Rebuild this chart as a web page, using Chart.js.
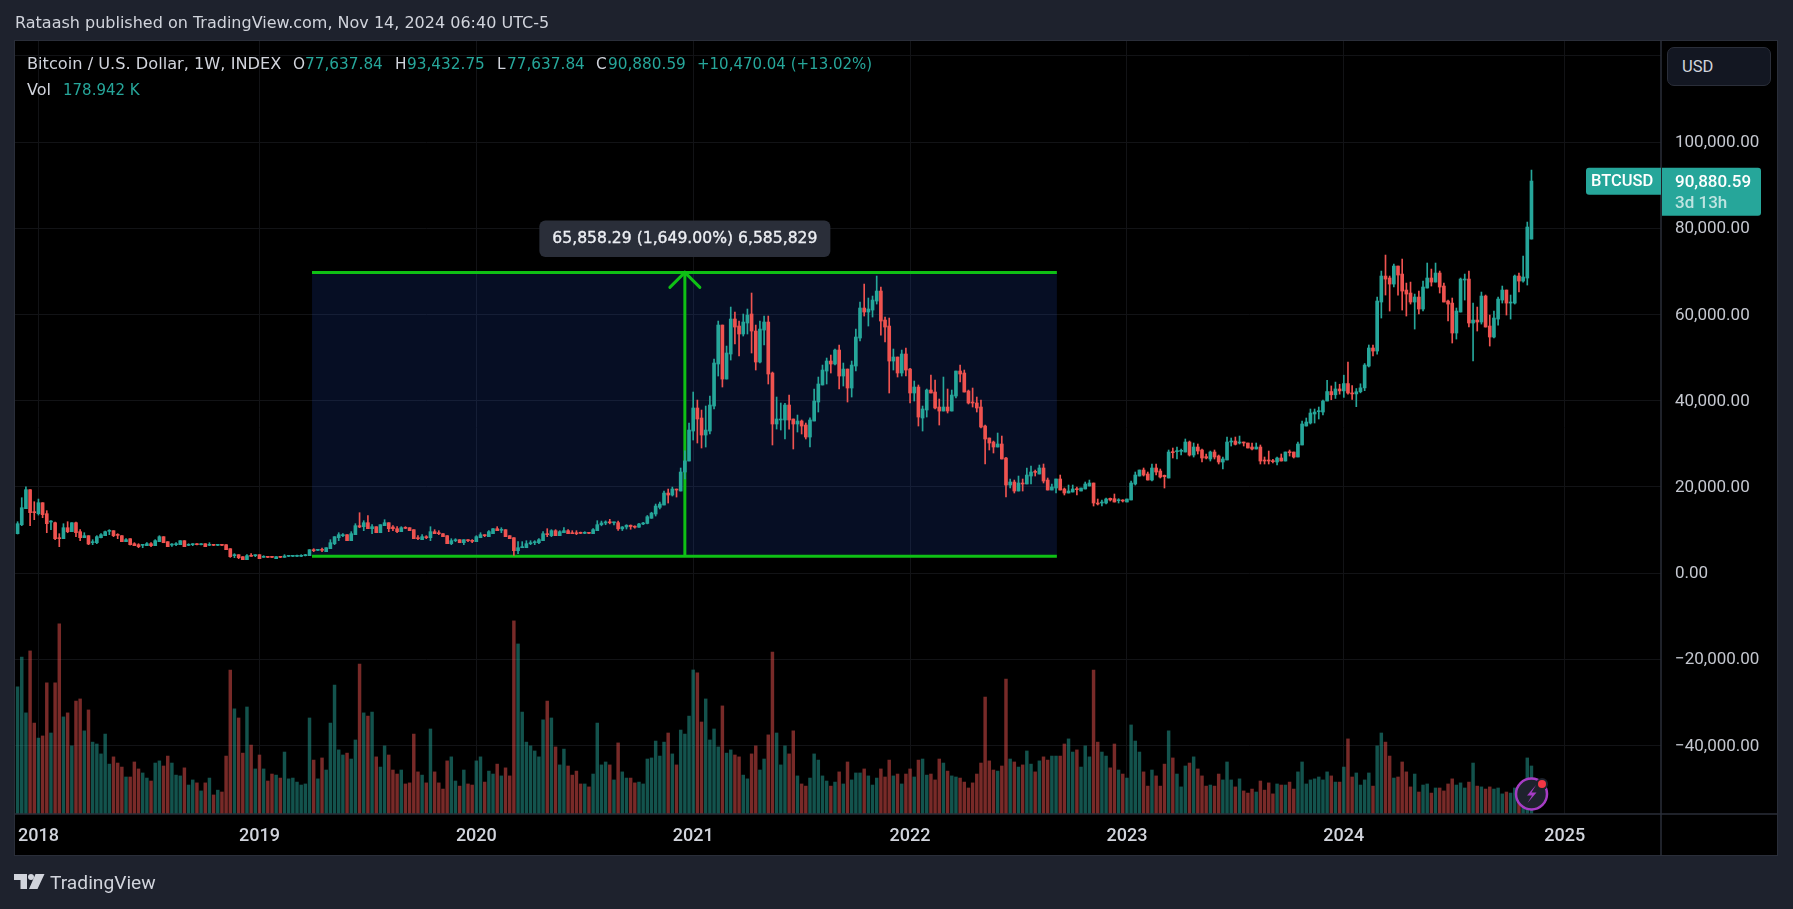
<!DOCTYPE html>
<html>
<head>
<meta charset="utf-8">
<title>BTCUSD 1W</title>
<script src="https://cdn.jsdelivr.net/npm/chart.js@4/dist/chart.umd.js"></script>
<style>
  html,body{margin:0;padding:0;width:1793px;height:909px;overflow:hidden;background:#1e222d;font-family:Roboto,sans-serif;}
  #panel{position:absolute;left:14px;top:40px;width:1762px;height:814px;background:#000;border:1px solid #2a2e39;border-width:1.5px;}
  #c{position:absolute;left:0;top:0;}
  .t{position:absolute;white-space:nowrap;font-family:"DejaVu Sans",sans-serif;font-size:15.300px;line-height:20px;color:#d1d4dc;}
  .v{color:#26a69a;}
  #usd{position:absolute;left:1667px;top:47px;width:102px;height:37px;background:#131722;border:1.5px solid #2a2e39;border-radius:7px;color:#d1d4dc;font-size:16.5px;line-height:37px;text-indent:14px;}
</style>
</head>
<body>
<div id="panel"></div>
<canvas id="c" width="1793" height="909"></canvas>
<div class="t" style="left:15px;top:13px;font-size:16px">Rataash published on TradingView.com, Nov 14, 2024 06:40 UTC-5</div>
<div class="t" style="left:27px;top:54px;font-size:16.200px">Bitcoin / U.S. Dollar, 1W, INDEX</div>
<div class="t" style="left:293px;top:54px">O</div><div class="t v" style="left:305px;top:54px">77,637.84</div>
<div class="t" style="left:395px;top:54px">H</div><div class="t v" style="left:407px;top:54px">93,432.75</div>
<div class="t" style="left:497px;top:54px">L</div><div class="t v" style="left:507px;top:54px">77,637.84</div>
<div class="t" style="left:596px;top:54px">C</div><div class="t v" style="left:608px;top:54px">90,880.59</div>
<div class="t v" style="left:697px;top:54px;font-size:15px">+10,470.04 (+13.02%)</div>
<div class="t" style="left:27px;top:80px;font-size:16px">Vol</div><div class="t v" style="left:63px;top:80px;font-size:15px">178.942 K</div>
<div id="usd">USD</div>
<svg style="position:absolute;left:14px;top:874px" width="31" height="16" viewBox="0 0 31 16"><path fill="#d1d4dc" d="M0 0H13V15H6.500V6H0Z M21.500 0H30.500L23.500 15H15Z"/><circle fill="#d1d4dc" cx="17" cy="3" r="3"/></svg>
<div class="t" style="left:50px;top:873px;font-family:Roboto;font-size:19.200px">TradingView</div>
<svg style="position:absolute;left:1510px;top:774px" width="44" height="40" viewBox="0 0 44 40">
  <circle cx="21.500" cy="20" r="15.500" fill="#1e222d" stroke="#a63cc4" stroke-width="2.500"/>
  <path d="M26 11 L17 21.500 H22 L17.500 29 L26.500 18.500 H21.500Z" fill="#a63cc4"/>
  <circle cx="32" cy="10" r="6" fill="#1e222d"/><circle cx="32" cy="10" r="4" fill="#f23645"/>
</svg>
<script>
const opens=[
9120,11200,14920,19330,14220,13760,16310,13760,11830,11670,
8190,7960,10510,9590,11670,9590,8190,8660,7030,7030,
8190,8660,9670,9820,8890,8660,7270,7960,6800,6570,
6420,6340,6800,6340,7270,8430,7270,6490,6570,6570,
7500,6420,6570,6720,6570,6800,6420,6570,6420,6570,
6570,5640,4020,4250,3790,3090,4100,4020,4250,3630,
3790,3790,3320,3790,3630,3870,3870,3870,3870,4020,
4020,5410,5260,5410,4950,5640,6800,8190,8660,8890,
7500,8890,10980,10740,11670,10280,10740,9350,10980,11670,
10670,10280,9590,10590,10510,10050,8190,7730,8430,8190,
9590,9350,9120,8660,6800,7500,7730,7030,7730,7580,
7270,8190,8890,8430,9120,10280,9900,10050,8660,8190,
5180,5870,5870,6800,7030,7030,7500,9120,8660,9820,
8660,9350,9820,9350,9350,9350,9200,9350,9120,9820,
11210,11600,11850,11650,11680,10250,10680,11080,10770,10630,
11370,11500,12700,13680,15230,15770,18550,18090,19480,19020,
23430,25980,32940,38280,35960,32010,32940,38740,48490,57530,
45000,50810,58930,57300,55450,58000,60090,56140,48950,56370,
58230,46400,34570,35500,35500,38970,35730,34570,35260,34330,
31550,35260,39670,43620,46860,49180,48490,51730,45700,47320,
42920,48020,54520,61480,60550,61010,63100,65420,58690,57300,
49180,50110,46400,50810,47320,41760,43150,35960,37820,42450,
41990,38510,37580,38510,37580,41060,46860,46400,42220,39670,
39440,38510,34100,31320,30390,29230,29930,26680,20410,21110,
19020,20880,20650,22500,23580,22970,24360,21570,19250,19720,
21810,19490,18560,18790,19560,19020,19490,20180,20880,16240,
16240,16240,17320,17240,16780,16940,16470,16940,20650,22500,
23890,22970,21570,24360,23660,22660,22040,28150,28150,28230,
28070,30390,27370,29230,28540,26990,26450,28070,27140,25750,
26220,30390,30620,30160,30390,30160,29230,28770,29230,26220,
26220,25980,25750,26680,25980,28070,28070,26910,29700,34100,
34800,36890,37430,37350,39900,42100,41350,42700,42250,43950,
41750,41550,42050,42950,48020,52200,51500,62870,68900,68440,
67040,71220,69360,65650,64960,62870,64030,61250,66120,68440,
67500,69600,66580,63100,62630,55680,60550,67970,68200,58000,
58690,58230,64260,57300,54750,58920,63330,65650,62630,62630,
68900,67740,68440,77480];
const highs=[
11900,17470,20020,19330,16540,17160,16310,14460,12140,11830,
9120,11440,11900,11670,11830,10050,9350,8660,7730,8660,
9120,9740,10050,9820,9120,8660,7960,7960,7030,6800,
6570,7030,7030,7730,8660,8430,7270,6800,7030,7500,
7500,6800,6800,6800,6800,6800,7030,6650,6650,6650,
6570,5640,4480,4250,3790,4250,4480,4250,4250,4020,
3850,3850,3790,3850,4250,4100,4100,4170,4250,4330,
5410,5640,5490,5800,5870,7730,8430,9350,9120,8890,
9590,11440,13990,12140,13300,11210,10740,11210,12370,11670,
10980,10750,10750,10750,10510,10050,8660,8890,8660,10740,
10050,9820,9120,8660,7960,7960,7730,7730,7730,7730,
8660,9350,8890,9820,10280,10750,10510,10050,8660,8190,
7270,7270,7500,7500,7500,7960,9590,10280,10050,10050,
9820,10510,10050,9820,9820,9500,9590,9430,10280,12140,
12050,12100,12450,11800,12050,10780,11200,11150,10950,11500,
11750,13350,14100,16000,16460,19020,19480,19940,19480,24360,
28350,34800,41990,40130,37810,38740,41060,49640,58460,57530,
52660,61710,60550,58460,60090,61250,64960,57530,58460,59620,
59620,46630,40830,39440,39360,41290,35730,36650,35500,34800,
36000,42680,45470,48250,49880,50570,51970,52900,48720,47320,
49180,56600,62870,67040,63800,64260,68900,66350,59390,59160,
51970,50110,51730,52200,47480,44540,43620,38740,42690,45930,
44770,40370,45470,42690,42450,46860,48250,47090,42450,42920,
40830,40130,34330,31320,30620,32480,31780,26830,21810,21570,
22500,21810,24360,24820,23890,25050,25290,22040,20650,21810,
22730,19720,20410,20410,19950,19720,21110,21570,20880,17170,
16940,17400,17400,18330,17240,17010,17170,21340,23430,23890,
24360,23430,25290,25290,24130,22730,28540,29000,29230,28770,
31090,30620,30160,29930,28770,27610,28300,28540,27370,26910,
31550,31320,31550,31780,30390,30160,30160,30160,29700,26910,
28300,26370,26910,27610,28070,28540,28070,30390,35260,35960,
38050,38050,38510,40100,44700,43400,44300,43800,45900,48950,
43500,42800,43900,48600,52900,52900,64030,70060,73770,68900,
71690,71220,72840,67270,67500,64720,65420,67740,71920,70520,
71920,70060,67270,63330,63800,61480,68440,69360,70060,62630,
61710,65190,64490,59850,60780,64030,66580,65650,64490,69130,
69600,73540,81430,93490];
const lows=[
9050,10980,14900,10980,12370,13450,12830,9350,10050,7730,
6110,7960,9350,9590,8430,7500,8190,6570,6570,6800,
8120,8660,8890,8430,7960,7270,7270,6490,6340,5870,
5870,6340,6110,6340,7270,7030,6110,6180,6340,6570,
6110,6340,6340,6490,6490,6110,6340,6340,6340,6340,
5410,3630,3560,3320,3090,3090,3870,3790,3320,3630,
3560,3560,3320,3560,3630,3790,3790,3790,3790,3950,
4020,4950,5180,4950,4950,5640,6570,7500,8430,7500,
7500,8890,10510,9820,10280,9120,9350,9350,10980,9590,
9820,9350,9590,10280,9820,7960,7730,7730,7960,7500,
9120,8890,8430,6800,6570,7270,7030,6570,7270,7030,
7270,8190,8430,8430,9120,9820,9350,8430,7960,4100,
4480,5870,5870,6570,6570,6800,7500,8430,8430,8660,
8660,9350,9120,9120,8890,9120,9120,9120,9120,9820,
10950,11200,11400,11150,9900,9850,10200,10150,10400,10550,
11200,11400,12680,13220,14840,15770,16230,17860,17620,19020,
21800,25980,30850,30160,29000,29230,32250,38050,45700,43150,
45000,49410,53130,50340,54980,55450,51040,47090,48720,52900,
43850,29700,33400,33170,31090,33400,28770,32710,32250,31090,
29230,35260,37350,43620,43850,46400,48250,42690,43380,39670,
40830,46860,53820,59620,57300,59390,62400,55210,53590,41760,
47090,45470,45700,45700,39440,39900,34100,32940,36190,41760,
38050,34330,37580,37120,37580,40600,44310,41990,39210,38510,
37350,33640,25290,28540,27840,29230,26450,17630,19720,18560,
19020,19020,20650,20650,22500,22970,20880,19250,19250,18560,
19250,18100,18560,18790,18100,19020,19490,20180,15540,15780,
15540,16010,16700,16470,16240,16470,16470,16940,20410,22500,
22500,21570,21340,22730,22040,19720,22040,26680,26450,27370,
28070,27140,26910,27610,25750,26450,25980,26450,25290,24130,
26220,29460,29700,29930,29460,29000,28540,28770,25290,25290,
25290,25520,25050,25980,25980,27140,26680,26910,29700,34100,
34570,34800,35730,36650,39900,40200,40500,41500,40750,41500,
40300,38590,41800,42300,47800,50340,50800,59160,64490,60780,
66350,64490,61010,59620,62400,56600,60090,60780,66120,66580,
67500,64960,62870,58460,53360,54280,60550,63330,57070,49180,
56140,57760,57070,52660,54520,57530,62630,59850,58920,62400,
65190,67500,66810,77480];
const closes=[
11440,15150,19330,14000,14000,16310,13530,11440,11980,7960,
7960,10510,9590,11670,9350,8190,8660,6730,7270,8430,
8890,9590,9820,8660,8730,7270,7730,6570,6340,6110,
6490,6800,6340,7500,8430,7030,6110,6570,6800,7500,
6110,6570,6650,6570,6720,6110,6570,6420,6570,6420,
5410,3790,4170,3560,3090,4020,3870,4170,3320,3790,
3630,3630,3790,3630,3940,4020,4020,4020,4090,4250,
5410,5180,5410,5260,5870,7030,8430,8890,8890,7500,
9120,10980,10670,11670,10280,10740,9350,11210,11670,10280,
10280,9590,10510,10360,9820,7960,7960,8430,8190,9590,
9120,9120,8430,6800,7500,7730,7030,7730,7500,7340,
8430,8890,8660,9590,10280,9820,10050,8430,7960,5180,
5870,6110,6800,7030,7190,7730,9120,8890,9820,8660,
9590,9820,9120,9120,9120,9200,9350,9200,10050,11210,
11600,11850,11650,11680,10250,10680,11080,10770,10630,11370,
11500,13060,13900,15540,16000,18550,18090,19480,19250,23430,
26000,33170,38280,35730,32010,33170,38970,48720,57530,45000,
51040,58930,57070,55450,58230,59850,56140,48950,56600,58230,
46170,34570,35730,35730,38970,35500,34570,35260,34100,31550,
35500,39900,43850,47090,49180,48490,51730,45700,47320,42920,
48250,54750,61480,60550,61250,63330,65420,58460,57070,49180,
50110,46400,50810,47090,41760,43150,36190,38050,42450,41760,
38280,37580,38510,37580,41290,46860,46170,41990,39440,39440,
38280,33870,31090,30160,29230,29930,26450,20410,21110,19020,
20880,20650,22730,23430,23350,24360,21340,19250,19950,21810,
19250,18560,19020,19490,19330,19720,20650,20880,16240,16010,
16470,17170,16940,16470,17010,16700,17170,20880,22730,23890,
22730,21570,24360,23430,22270,22350,28070,27920,28380,28380,
30390,27370,29230,28300,26680,26680,28070,26910,25750,26450,
30390,30620,29850,30390,30160,29000,28770,29230,25980,25980,
25980,25830,26680,25980,28070,27920,26910,29930,34570,35030,
37120,37350,37660,39900,42100,41350,42700,42250,43950,41750,
41550,42050,42950,48250,52200,51500,63100,68900,68200,67040,
71220,69130,65420,64720,62870,64030,61250,66350,68440,67500,
69600,66350,62870,62400,55680,60780,68200,68200,58000,58690,
58230,64260,57070,54750,59160,63560,65650,62630,62870,68900,
67740,68670,80270,90940];
// weekly volume, thousands
const volumes=[
474,585,377,608,339,283,291,489,302,489,
709,362,377,254,421,429,310,388,268,261,
224,298,186,213,190,175,138,138,194,168,
153,134,123,190,198,179,216,190,145,142,
172,108,127,116,86,116,134,71,89,82,
216,537,392,358,227,399,257,168,220,168,
123,149,145,134,231,131,134,119,108,112,
358,201,131,209,164,339,481,239,220,227,
205,276,559,377,365,380,213,175,254,220,
164,149,164,112,116,298,157,145,116,317,
157,116,93,198,213,123,104,164,112,108,
198,213,119,160,149,186,142,172,142,720,
634,380,268,254,235,213,351,421,358,250,
183,242,179,145,160,112,112,101,149,339,
183,194,183,127,265,157,134,134,116,119,
112,205,209,272,216,268,302,224,183,313,
298,365,537,526,343,429,276,317,250,403,
227,239,220,213,145,131,224,254,164,205,
295,604,302,183,254,224,310,142,112,104,
134,224,201,142,123,104,119,157,112,194,
127,153,153,168,142,108,134,168,138,201,
142,149,112,149,168,138,201,205,145,149,
127,205,190,160,142,138,134,119,97,116,
149,190,436,198,164,160,179,503,205,194,
175,183,235,186,157,198,213,201,216,216,
216,261,280,231,239,175,254,213,537,268,
231,216,172,261,164,149,134,332,272,231,
157,104,164,142,104,186,310,209,149,101,
179,190,213,168,142,104,108,104,149,127,
194,127,101,131,86,78,93,82,123,89,
116,75,112,108,108,119,93,157,194,112,
127,131,138,127,157,142,119,119,175,280,
138,153,108,127,153,104,254,302,268,216,
134,138,194,157,101,149,82,108,112,78,
97,97,86,112,131,108,116,97,119,190,
104,101,93,101,93,97,75,82,78,97,
89,89,209,179];
const yearTicks=[5,58,110,162,214,266,318,371];
const yearLabels=['2018','2019','2020','2021','2022','2023','2024','2025'];
const priceTicks=[-40000,-20000,0,20000,40000,60000,80000,100000,120000];
const rangeLow=3880, rangeHigh=69738, rangeFrom=70.6, rangeTo=249.2, rangeMid=160;
const lastPrice=90880.59;
const measureText='65,858.29 (1,649.00%) 6,585,829';

const UP='#26a69a', DOWN='#ef5350', UP_VOL='rgba(38,166,154,0.5)', DOWN_VOL='rgba(239,83,80,0.5)';
const GREEN='#0fc015', GRID='#121316', LINE='#2a2e39';

const idx=closes.map((_,i)=>i);
const isUp=i=>closes[i]>=opens[i];
const wicks=idx.map(i=>({x:i,y:[lows[i],highs[i]]}));
const bodies=idx.map(i=>({x:i,y:[Math.min(opens[i],closes[i]),Math.max(opens[i],closes[i])]}));
const vols=idx.map(i=>({x:i,y:volumes[i]}));

function roundBox(ctx,x,y,w,h,r,fill){ ctx.beginPath(); ctx.roundRect(x,y,w,h,r); ctx.fillStyle=fill; ctx.fill(); }

const overlays={
  id:'overlays',
  beforeDatasetsDraw(chart){
    const {ctx,scales:{x,y}}=chart;
    const l=x.getPixelForValue(rangeFrom), r=x.getPixelForValue(rangeTo), m=x.getPixelForValue(rangeMid);
    const t=y.getPixelForValue(rangeHigh), b=y.getPixelForValue(rangeLow);
    ctx.save();
    ctx.fillStyle='rgba(41,98,255,0.14)';
    ctx.fillRect(l,t,r-l,b-t);
    ctx.strokeStyle=GREEN; ctx.lineWidth=3; ctx.lineCap='butt';
    ctx.beginPath();
    ctx.moveTo(l,t); ctx.lineTo(r,t);
    ctx.moveTo(l,b); ctx.lineTo(r,b);
    ctx.moveTo(m,t); ctx.lineTo(m,b);
    ctx.stroke();
    ctx.lineCap='round';
    ctx.beginPath();
    ctx.moveTo(m-15,t+15); ctx.lineTo(m,t); ctx.lineTo(m+15,t+15);
    ctx.stroke();
    ctx.restore();
  },
  afterDraw(chart){
    const {ctx,chartArea:a,scales:{x,y}}=chart;
    ctx.save();
    // pane separators
    ctx.strokeStyle=LINE; ctx.lineWidth=1.5;
    ctx.beginPath();
    ctx.moveTo(a.right,a.top); ctx.lineTo(a.right,855);
    ctx.moveTo(a.left,a.bottom); ctx.lineTo(1778,a.bottom);
    ctx.stroke();
    // measure label
    const m=x.getPixelForValue(rangeMid), t=y.getPixelForValue(rangeHigh);
    roundBox(ctx,m-145.5,t-52,291,36.5,6,'#2a2e39');
    ctx.font='15.6px "DejaVu Sans"'; ctx.fillStyle='#eceef3'; ctx.strokeStyle='#eceef3'; ctx.lineWidth=0.35;
    ctx.textBaseline='middle'; ctx.textAlign='center';
    ctx.fillText(measureText,m,t-33);
    ctx.strokeText(measureText,m,t-33);
    // last price tags
    const py=y.getPixelForValue(lastPrice);
    ctx.beginPath(); ctx.roundRect(a.right-75,py-13.5,75,27,[3,0,0,3]); ctx.fillStyle=UP; ctx.fill();
    ctx.beginPath(); ctx.roundRect(a.right+1,py-13.5,99,48,[0,3,3,0]); ctx.fillStyle=UP; ctx.fill();
    ctx.textAlign='left'; ctx.fillStyle='#fff'; ctx.font='500 16.5px Roboto';
    ctx.fillText('BTCUSD',a.right-70,py+1);
    ctx.font='500 17px Roboto';
    ctx.fillText(lastPrice.toLocaleString('en-US'),a.right+14,py+1);
    ctx.fillStyle='rgba(255,255,255,0.7)';
    ctx.fillText('3d 13h',a.right+14,py+22);
    ctx.restore();
  }
};

new Chart(document.getElementById('c'),{
  type:'bar',
  data:{datasets:[
    {yAxisID:'vol',data:vols,grouped:false,barThickness:2.8,backgroundColor:idx.map(i=>isUp(i)?UP_VOL:DOWN_VOL)},
    {yAxisID:'y',data:wicks,grouped:false,barThickness:1,backgroundColor:idx.map(i=>isUp(i)?UP:DOWN)},
    {yAxisID:'y',data:bodies,grouped:false,barThickness:3,minBarLength:1,backgroundColor:idx.map(i=>isUp(i)?UP:DOWN)}
  ]},
  options:{
    responsive:false,animation:false,events:[],
    layout:{padding:{left:15,top:41,right:15,bottom:54}},
    plugins:{legend:{display:false},tooltip:{enabled:false}},
    scales:{
      x:{type:'linear',min:-0.62,max:394.06,offset:false,
        grid:{color:GRID,drawTicks:false,offset:false},border:{display:false},
        afterBuildTicks(s){ s.ticks=yearTicks.map(v=>({value:v})); },
        afterFit(s){ s.height=41; },
        ticks:{autoSkip:false,maxRotation:0,padding:12,color:'#d1d4dc',font:{family:'Roboto',size:18,weight:'500'},
          callback:v=>yearLabels[yearTicks.indexOf(v)]}},
      y:{position:'right',min:-55916,max:123434,
        grid:{color:GRID,drawTicks:false},border:{display:false},
        afterBuildTicks(s){ s.ticks=priceTicks.map(v=>({value:v})); },
        afterFit(s){ s.width=117; },
        ticks:{padding:14,labelOffset:1,color:'#c4c7cf',font:{family:'Roboto',size:17},
          callback:v=>v>100000?'':(v<0?'\u2212':'')+Math.abs(v).toLocaleString('en-US',{minimumFractionDigits:2})}},
      vol:{display:false,min:0,max:2882}
    }
  },
  plugins:[overlays]
});
</script>
</body>
</html>
